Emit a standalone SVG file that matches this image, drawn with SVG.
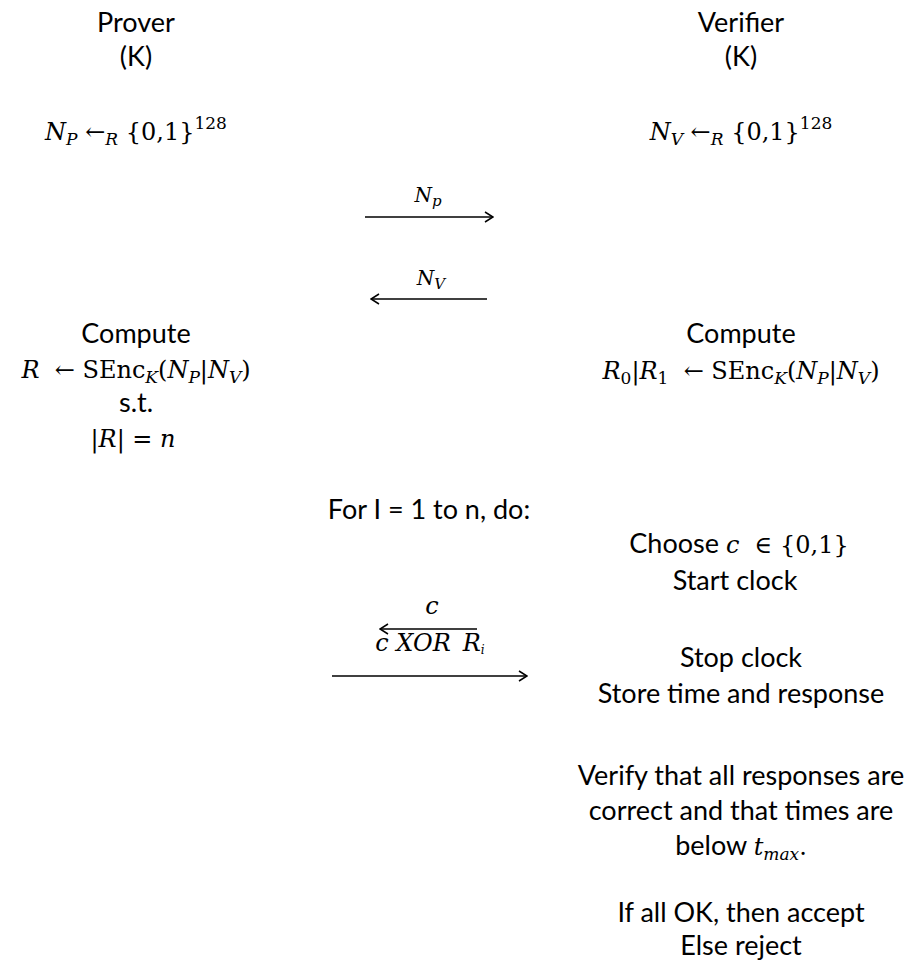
<svg xmlns="http://www.w3.org/2000/svg" width="911" height="961" viewBox="0 0 911 961">
<defs>
<style>
.t{font-family:Lato,"Open Sans","Liberation Sans",sans-serif;font-size:27px;fill:#000;text-anchor:middle}
.m{font-family:"DejaVu Serif","Liberation Serif",serif;font-size:24px;fill:#000}
.mc{text-anchor:middle}
.i{font-style:italic}
.s{font-size:17px}
.ln{stroke:#000;stroke-width:1.4;fill:none}
</style>
<marker id="ah" viewBox="0 0 10 12" refX="9" refY="6" markerWidth="10" markerHeight="12" markerUnits="userSpaceOnUse" orient="auto">
<path d="M1,1 L9,6 L1,11" fill="none" stroke="#000" stroke-width="1.5"/>
</marker>
</defs>
<rect width="911" height="961" fill="#fff"/>

<g id="prover">
<text class="t" x="136" y="32">Prover</text>
<text class="t" x="136" y="66">(K)</text>
</g>
<g id="verifier">
<text class="t" x="741" y="32">Verifier</text>
<text class="t" x="741" y="66">(K)</text>
</g>

<g id="prover-nonce">
<text class="m mc" x="136" y="140"><tspan class="i">N</tspan><tspan class="i s" dy="5">P</tspan><tspan dy="-5"> ←</tspan><tspan class="i s" dy="5">R</tspan><tspan dy="-5"> {0,1}</tspan><tspan class="s" dy="-11">128</tspan></text>
</g>
<g id="verifier-nonce">
<text class="m mc" x="741" y="140"><tspan class="i">N</tspan><tspan class="i s" dy="5">V</tspan><tspan dy="-5"> ←</tspan><tspan class="i s" dy="5">R</tspan><tspan dy="-5"> {0,1}</tspan><tspan class="s" dy="-11">128</tspan></text>
</g>

<g id="prover-compute">
<text class="t" x="136" y="343">Compute</text>
<text class="m mc" x="136" y="378" font-size="25"><tspan class="i">R</tspan><tspan>&#160; ← SEnc</tspan><tspan class="i s" dy="5">K</tspan><tspan dy="-5">(</tspan><tspan class="i">N</tspan><tspan class="i s" dy="5">P</tspan><tspan dy="-5">|</tspan><tspan class="i">N</tspan><tspan class="i s" dy="5">V</tspan><tspan dy="-5">)</tspan></text>
<text class="t" x="136" y="412">s.t.</text>
<text class="m mc" x="133" y="447" font-size="25">|<tspan class="i">R</tspan>| = <tspan class="i">n</tspan></text>
</g>

<g id="verifier-compute">
<text class="t" x="741" y="343">Compute</text>
<text class="m mc" x="741" y="379" font-size="25"><tspan class="i">R</tspan><tspan class="s" dy="5">0</tspan><tspan dy="-5">|</tspan><tspan class="i">R</tspan><tspan class="s" dy="5">1</tspan><tspan dy="-5">&#160; ← SEnc</tspan><tspan class="i s" dy="5">K</tspan><tspan dy="-5">(</tspan><tspan class="i">N</tspan><tspan class="i s" dy="5">P</tspan><tspan dy="-5">|</tspan><tspan class="i">N</tspan><tspan class="i s" dy="5">V</tspan><tspan dy="-5">)</tspan></text>
</g>

<g id="loop">
<text class="t" x="429" y="519">For I = 1 to n, do:</text>
</g>

<g id="verifier-choose">
<text class="t" x="739" y="553">Choose <tspan class="m i">c</tspan><tspan class="m">&#160; ∈ {0,1}</tspan></text>
<text class="t" x="735" y="590">Start clock</text>
</g>

<g id="verifier-stop">
<text class="t" x="741" y="667">Stop clock</text>
<text class="t" x="741" y="703">Store time and response</text>
</g>

<g id="verifier-check">
<text class="t" x="741" y="785">Verify that all responses are</text>
<text class="t" x="741" y="820">correct and that times are</text>
<text class="t" x="741" y="855">below <tspan class="m i">t</tspan><tspan class="m i s" dy="5">max</tspan><tspan class="m" dy="-5">.</tspan></text>
</g>

<g id="verifier-decision">
<text class="t" x="741" y="922">If all OK, then accept</text>
<text class="t" x="741" y="955">Else reject</text>
</g>

<g id="connectors">
<line class="ln" x1="365" y1="217" x2="493" y2="217" marker-end="url(#ah)"/>
<text class="m mc" x="428" y="202"><tspan class="i" font-size="20">N</tspan><tspan class="i" font-size="15" dy="4">p</tspan></text>
<line class="ln" x1="487" y1="299" x2="371" y2="299" marker-end="url(#ah)"/>
<text class="m mc" x="431" y="285"><tspan class="i" font-size="20">N</tspan><tspan class="i" font-size="15" dy="4">V</tspan></text>
<line class="ln" x1="477" y1="629" x2="380" y2="629" marker-end="url(#ah)"/>
<text class="m mc i" x="432" y="614" font-size="20">c</text>
<text class="m mc i" x="430" y="651" font-size="16">c XOR<tspan dx="12">R</tspan><tspan font-size="12" dy="3">i</tspan></text>
<line class="ln" x1="332" y1="676" x2="527" y2="676" marker-end="url(#ah)"/>
</g>
</svg>
